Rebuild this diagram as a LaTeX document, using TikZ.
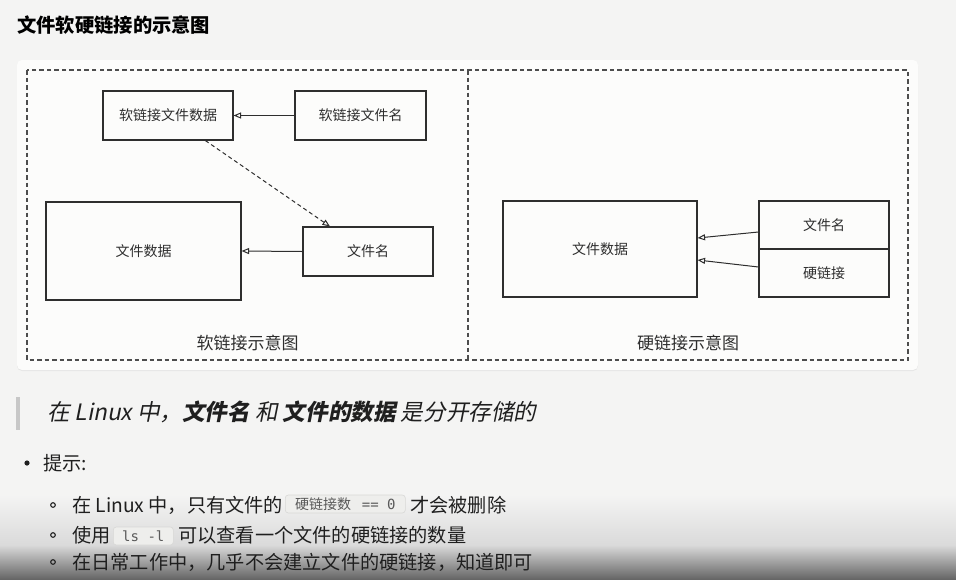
\documentclass[tikz,border=0pt]{standalone}
\usepackage{fontspec}
\setmainfont{Noto Sans CJK SC}[AutoFakeSlant=0.2]
\newfontfamily\qfont{Noto Sans CJK SC}[UprightFeatures={FakeSlant=0.2}, BoldFeatures={FakeSlant=0.2}]
\newfontfamily\monof{DejaVu Sans Mono}
\usetikzlibrary{arrows.meta,calc,shadows}
\definecolor{bg}{HTML}{F4F4F3}
\definecolor{card}{HTML}{FCFCFB}
\definecolor{ink}{HTML}{2E2E2E}
\definecolor{codebg}{HTML}{EEEEEC}
\definecolor{codebd}{HTML}{D8D8D6}
\definecolor{shmid}{HTML}{DADADA}
\definecolor{shbot}{HTML}{666666}
\tikzset{
  box/.style={draw=ink, line width=1.1pt, fill=card, inner sep=0pt, font=\fontsize{14}{14}\selectfont, text=ink},
  arr/.style={draw=ink, line width=1pt, -{Triangle[open, length=7.5pt, width=6pt]}},
  dasharr/.style={arr, dash pattern=on 4pt off 3pt},
  frame/.style={draw=ink!85, line width=1.3pt, dash pattern=on 4.5pt off 3pt},
  lbl/.style={font=\fontsize{17}{17}\selectfont, text=ink, inner sep=0pt},
  body/.style={font=\fontsize{19.2}{19.2}\selectfont, text=black!88, inner sep=0pt, anchor=west},
  code/.style={draw=codebd, fill=codebg, rounded corners=3pt, line width=0.6pt, inner sep=0pt, font=\fontsize{14}{14}\selectfont, text=black!65, anchor=west}
}
\begin{document}
\begin{tikzpicture}[x=1pt,y=-1pt]
\useasboundingbox (0,0) rectangle (956,579);
\fill[bg] (0,0) rectangle (956,579);
\shade[top color=bg, bottom color=shmid] (0,495) rectangle (956,545.5);
\shade[top color=shmid, bottom color=shbot] (0,545) rectangle (956,579);
% title
\node[anchor=west, inner sep=0pt, font=\fontsize{19.3}{19.3}\selectfont\bfseries] (title) at (17,25) {文件软硬链接的示意图};
% card
\fill[card, rounded corners=5pt, drop shadow={opacity=0.12, shadow xshift=0pt, shadow yshift=-1pt}] (17,60) rectangle (918,370);
\draw[frame] (27,70) rectangle (908,360);
\draw[frame] (468,70) -- (468,360);
% soft link
\node[box, minimum width=130pt, minimum height=49pt] (sdata) at (168,115.5) {软链接文件数据};
\node[box, minimum width=131pt, minimum height=49pt] (sname) at (360.5,115.5) {软链接文件名};
\node[box, minimum width=195pt, minimum height=98pt] (fdata) at (143.5,251) {文件数据};
\node[box, minimum width=130pt, minimum height=49pt] (fname) at (368,251.5) {文件名};
\draw[arr] (sname.west) -- (sdata.east);
\draw[arr] (fname.west) -- (fdata.east);
\draw[dasharr] ($(sdata.south west)!0.785!(sdata.south east)$) -- ($(fname.north west)!0.21!(fname.north east)$);
\node[lbl] (slbl) at (247.5,343) {软链接示意图};
% hard link
\node[box, minimum width=194pt, minimum height=96pt] (hdata) at (600,249) {文件数据};
\node[box, minimum width=130pt, minimum height=48pt] (hname) at (824,225) {文件名};
\node[box, minimum width=130pt, minimum height=48pt] (hlink) at (824,273) {硬链接};
\draw[arr] ($(hname.west)+(0,7)$) -- ($(hdata.east)+(0,-11)$);
\draw[arr] ($(hlink.west)+(0,-6)$) -- ($(hdata.east)+(0,11)$);
\node[lbl] (hlbl) at (688,343) {硬链接示意图};
% quote
\fill[black!22] (16,397) rectangle (19.5,430);
\node[body, font=\fontsize{22.6}{22.6}\selectfont\qfont] (quote) at (47,412) {在 Linux 中，\textbf{文件名} 和 \textbf{文件的数据} 是分开存储的};
% bullets
\fill[black!88] (27,463) circle (2.6pt);
\node[body] (tip) at (43,463) {提示:};
\draw[black!88, line width=1.1pt] (53,505) circle (2.3pt);
\draw[black!88, line width=1.1pt] (53,535) circle (2.3pt);
\draw[black!88, line width=1.1pt] (53,562) circle (2.3pt);
\node[body] (l1a) at (72,505) {在 Linux 中，只有文件的};
\node[code, minimum width=120pt, minimum height=18pt, align=center] (c1) at (285,504) {硬链接数\,{\monof\ == 0}};
\node[body] (l1b) at (410,505) {才会被删除};
\node[body] (l2a) at (72,535) {使用};
\node[code, minimum width=60pt, minimum height=18pt] (c2) at (113,536) {{\monof ls -l}};
\node[body] (l2b) at (178,535) {可以查看一个文件的硬链接的数量};
\node[body] (l3) at (72,562) {在日常工作中，几乎不会建立文件的硬链接，知道即可};
\end{tikzpicture}
\end{document}
